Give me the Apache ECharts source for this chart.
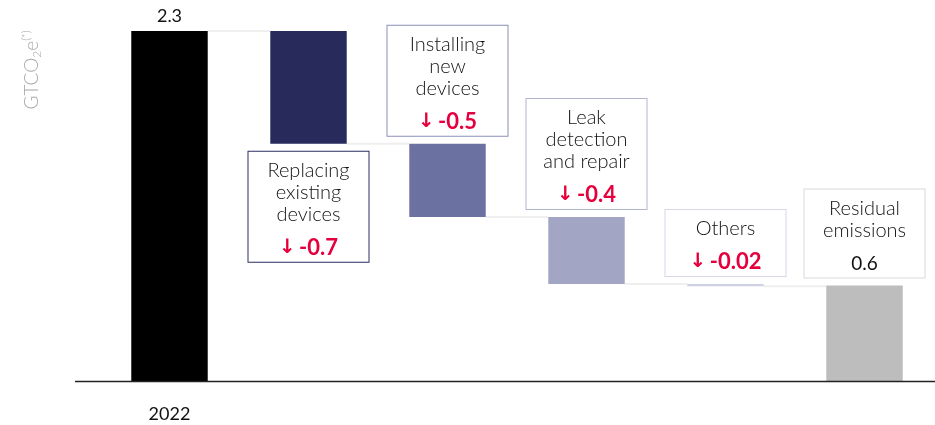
<!DOCTYPE html>
<html>
<head>
<meta charset="utf-8">
<script src="https://cdn.jsdelivr.net/npm/echarts@6/dist/echarts.min.js"></script>
<style>
html,body{margin:0;padding:0;background:#fff}
#chart{width:935px;height:425px}
</style>
</head>
<body>
<div id="chart"></div>
<script>
// data
var categories = ['2022', 'Replacing existing devices', 'Installing new devices', 'Leak detection and repair', 'Others', 'Residual emissions'];
var xTickLabels = ['2022', '', '', '', '', ''];
var boxTitles = [[], ['Replacing', 'existing', 'devices'], ['Installing', 'new', 'devices'], ['Leak', 'detection', 'and repair'], ['Others'], ['Residual', 'emissions']];
var startValue = 2.3;
var reductions = [0.74, 0.48, 0.44, 0.015];
var residualValue = 0.63;
var valueLabels = ['2.3', '-0.7', '-0.5', '-0.4', '-0.02', '0.6'];
var barColors = ['#000000', '#282a5b', '#6b71a0', '#a2a5c3', '#ced0e3', '#bdbdbd'];
var boxBorders = [null, '#2b2d5e', '#8a8fb6', '#b2b5d0', '#d6d8e6', '#d9d9d9'];

var font = 'Lato, "Open Sans", sans-serif';
var red = '#e5003d';

// waterfall: invisible base + visible part
var bases = [0], heights = [startValue], levels = [startValue];
var level = startValue;
reductions.forEach(function (r) {
    level -= r;
    bases.push(level);
    heights.push(r);
    levels.push(level);
});
bases.push(0);
heights.push(residualValue);

function boxText(i) {
    var s = boxTitles[i].map(function (t) { return '{t|' + t + '}'; }).join('\n');
    s += '\n{g| }\n';
    if (i === categories.length - 1) {
        s += '{n|' + valueLabels[i] + '}';
    } else {
        s += '{a|↓} {r|' + valueLabels[i] + '}';
    }
    return s;
}

var barData = heights.map(function (v, i) {
    var item = { value: v, itemStyle: { color: barColors[i] } };
    if (i === 0) {
        item.label = {
            show: true, position: 'top', distance: 6,
            formatter: valueLabels[0],
            fontFamily: font, fontSize: 18, color: '#111'
        };
    } else {
        item.label = {
            show: true,
            position: i === 1 ? 'bottom' : 'top',
            distance: 8,
            formatter: boxText(i),
            width: 120,
            align: 'center',
            padding: [8, 0, 2, 0],
            backgroundColor: '#fff',
            borderColor: boxBorders[i],
            borderWidth: 1,
            rich: {
                t: { fontFamily: font, fontWeight: 300, fontSize: 20, color: '#111', lineHeight: 22, align: 'center' },
                g: { fontSize: 4, lineHeight: 10 },
                a: { fontFamily: 'DejaVu Sans', fontWeight: 'bold', fontSize: 20, color: red, lineHeight: 24 },
                r: { fontFamily: font, fontWeight: 'bold', fontSize: 22, color: red, lineHeight: 24 },
                n: { fontFamily: font, fontSize: 19, color: '#111', lineHeight: 24 }
            }
        };
    }
    return item;
});

var connectorData = levels.map(function (lv, i) { return [i, lv]; });

var chart = echarts.init(document.getElementById('chart'));
var option = {
    animation: false,
    grid: { left: 100, right: 1, top: 31, bottom: 43.5 },
    xAxis: {
        type: 'category',
        data: categories,
        axisLine: { show: false },
        axisTick: { show: false },
        axisLabel: {
            margin: 24, fontFamily: font, fontSize: 18, color: '#111',
            formatter: function (v, i) { return xTickLabels[i]; }
        }
    },
    yAxis: {
        type: 'value', min: 0, max: 2.3,
        show: false
    },
    series: [
        {
            type: 'custom',
            z: 1,
            silent: true,
            data: connectorData,
            renderItem: function (params, api) {
                var i = api.value(0), lv = api.value(1);
                var p1 = api.coord([i, lv]);
                var p2 = api.coord([i + 1, lv]);
                var half = api.size([1, 0])[0] * 0.55 / 2;
                return {
                    type: 'line',
                    shape: { x1: p1[0] + half, y1: p1[1], x2: p2[0] - half, y2: p2[1] },
                    style: { stroke: '#efefef', lineWidth: 2 }
                };
            }
        },
        {
            type: 'bar', stack: 'w', z: 2, barWidth: '55%',
            itemStyle: { color: 'transparent' },
            data: bases
        },
        {
            type: 'bar', stack: 'w', z: 3, barWidth: '55%',
            data: barData
        }
    ]
};
chart.setOption(option);

var y0 = chart.convertToPixel({ gridIndex: 0 }, [0, 0])[1];
chart.setOption({
    graphic: [
        {
            type: 'line', z: 10,
            shape: { x1: 75, y1: y0, x2: 935, y2: y0 },
            style: { stroke: '#222', lineWidth: 1.5 }
        },
        {
            type: 'text',
            x: 32, y: 70, rotation: Math.PI / 2,
            style: {
                text: '{m|GTCO}{s|2}{m|e}{p|(*)}',
                align: 'center', verticalAlign: 'middle',
                rich: {
                    m: { fontFamily: font, fontWeight: 300, fontSize: 19, fill: '#aaa', lineHeight: 22, verticalAlign: 'middle' },
                    s: { fontFamily: font, fontWeight: 300, fontSize: 12, fill: '#aaa', lineHeight: 22, verticalAlign: 'bottom' },
                    p: { fontFamily: font, fontWeight: 300, fontSize: 11, fill: '#aaa', lineHeight: 22, verticalAlign: 'top' }
                }
            }
        }
    ]
});
</script>
</body>
</html>
